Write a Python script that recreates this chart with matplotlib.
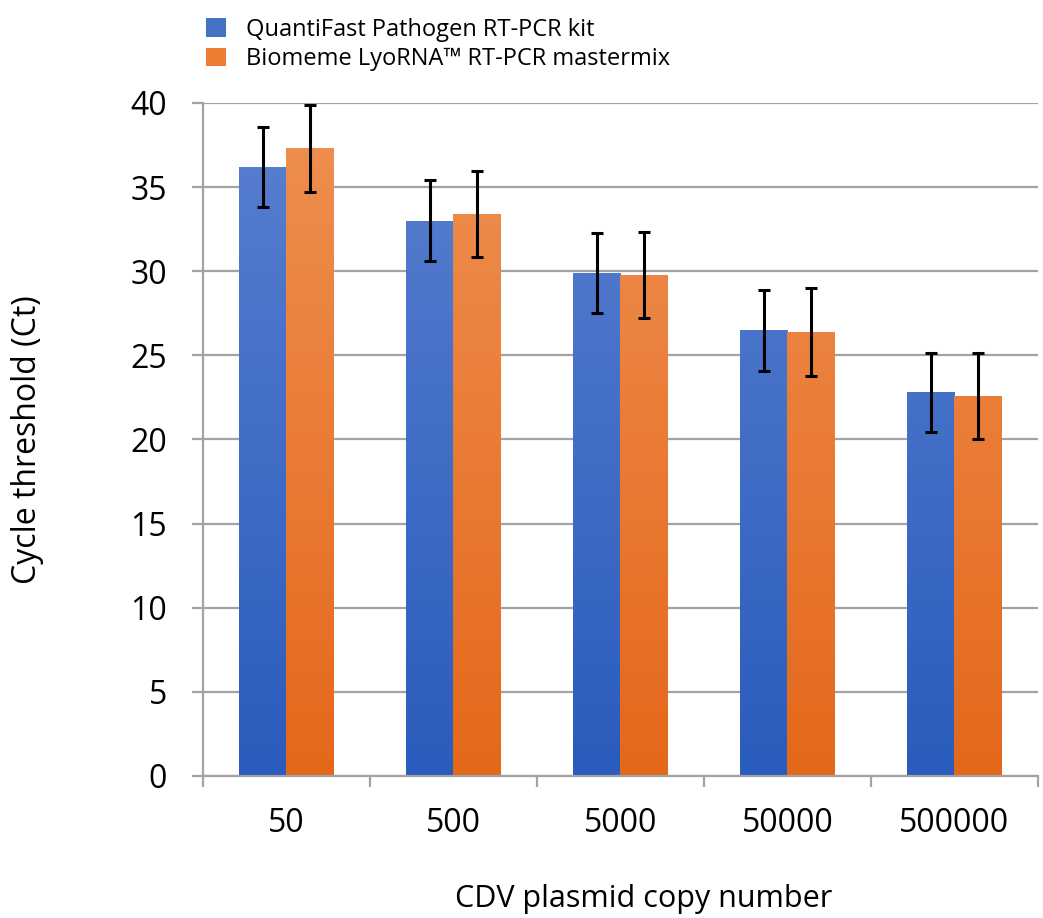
import numpy as np
import matplotlib
matplotlib.use('Agg')
import matplotlib.pyplot as plt
from matplotlib.colors import LinearSegmentedColormap

plt.rcParams['font.family'] = ['Open Sans', 'DejaVu Sans']

copies = ['50', '500', '5000', '50000', '500000']
quanti = [36.2, 33.0, 29.9, 26.5, 22.8]
quanti_err = [2.4, 2.4, 2.4, 2.4, 2.35]
biomeme = [37.3, 33.4, 29.8, 26.4, 22.6]
biomeme_err = [2.6, 2.55, 2.55, 2.6, 2.55]
series_names = ['QuantiFast Pathogen RT-PCR kit', 'Biomeme LyoRNA\u2122 RT-PCR mastermix']

grid_col = '#a3a3a3'
blue_cm = LinearSegmentedColormap.from_list('b', ['#2a5cbd', '#5a80d0'])
orange_cm = LinearSegmentedColormap.from_list('o', ['#e4681a', '#ef9052'])

fig = plt.figure(figsize=(10.43, 9.18), dpi=100)
ax = fig.add_axes([0.1946, 0.1547, 0.8004, 0.7331])

x = np.arange(len(copies))
w = 0.284

def grad_bars(xs, vals, cmap, color):
    bars = ax.bar(xs, vals, w, color=color, zorder=2, linewidth=0)
    grad = np.linspace(0, 1, 256).reshape(-1, 1)
    for b in bars:
        x0 = b.get_x()
        im = ax.imshow(grad, cmap=cmap, aspect='auto', origin='lower',
                       extent=[x0, x0 + b.get_width(), 0, 40], zorder=2.5,
                       vmin=0, vmax=1)
        im.set_clip_path(b)
    return bars

b1 = grad_bars(x - w / 2, quanti, blue_cm, '#4472c4')
b2 = grad_bars(x + w / 2, biomeme, orange_cm, '#ed7d31')
ax.errorbar(x - w / 2, quanti, yerr=quanti_err, fmt='none', ecolor='black',
            elinewidth=2.2, capsize=4.5, capthick=2.2, zorder=4)
ax.errorbar(x + w / 2, biomeme, yerr=biomeme_err, fmt='none', ecolor='black',
            elinewidth=2.2, capsize=4.5, capthick=2.2, zorder=4)

ax.set_xlim(-0.5, len(copies) - 0.5)
ax.set_ylim(0, 40)
ax.set_yticks(np.arange(0, 41, 5))
ax.yaxis.grid(True, color=grid_col, linewidth=1.6, zorder=0)
ax.set_axisbelow(True)

ax.set_xticks(x)
ax.set_xticklabels(copies, fontsize=23)
ax.set_xticks(np.arange(-0.5, len(copies)), minor=True)
ax.tick_params(axis='x', which='major', length=0, pad=22)
ax.tick_params(axis='x', which='minor', length=8, width=1.6, color=grid_col)
ax.tick_params(axis='y', length=8, width=1.6, color=grid_col, labelsize=23, pad=18)

for s in ['top', 'right']:
    ax.spines[s].set_visible(False)
for s in ['left', 'bottom']:
    ax.spines[s].set_color(grid_col)
    ax.spines[s].set_linewidth(1.6)

ax.set_ylabel('Cycle threshold (Ct)', fontsize=23)
ax.yaxis.set_label_coords(-0.19, 0.5)
ax.set_xlabel('CDV plasmid copy number', fontsize=22)
ax.xaxis.set_label_coords(0.528, -0.16)

leg = fig.legend([b1, b2], series_names, loc='upper left',
                 bbox_to_anchor=(0.1775, 1.004), frameon=False, fontsize=17,
                 handlelength=0.82, handleheight=0.82, handletextpad=0.85,
                 labelspacing=0.25)

fig.savefig('out.png', dpi=100)
